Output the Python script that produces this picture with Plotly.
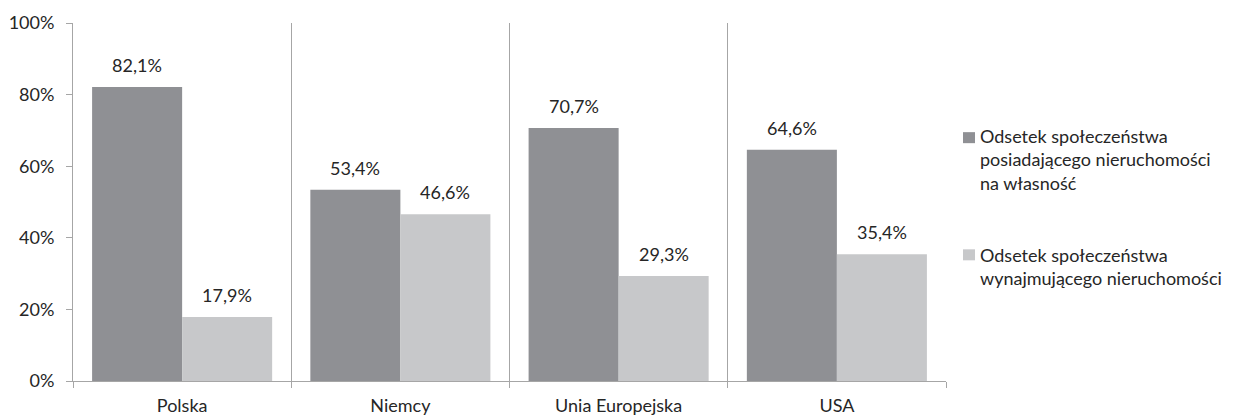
import plotly.graph_objects as go

categories = ["Polska", "Niemcy", "Unia Europejska", "USA"]
owners = [82.1, 53.4, 70.7, 64.6]
renters = [17.9, 46.6, 29.3, 35.4]
series_names = [
    "Odsetek społeczeństwa<br>posiadającego nieruchomości<br>na własność",
    "Odsetek społeczeństwa<br>wynajmującego nieruchomości",
]
y_ticks = [0, 20, 40, 60, 80, 100]
y_tick_labels = ["0%", "20%", "40%", "60%", "80%", "100%"]

DARK = "#8f9094"
LIGHT = "#c7c8ca"
AXIS = "#a6a6a6"
TEXT = "#262626"
FONT = "Lato, 'Open Sans', sans-serif"
FS = 18

fig = go.Figure()
fig.add_trace(go.Bar(x=categories, y=owners, name=series_names[0],
                     marker=dict(color=DARK, line=dict(width=0))))
fig.add_trace(go.Bar(x=categories, y=renters, name=series_names[1],
                     marker=dict(color=LIGHT, line=dict(width=0))))

# value labels above each bar
half = 45
for vals, shift in ((owners, -half), (renters, half)):
    for c, v in zip(categories, vals):
        fig.add_annotation(x=c, y=v, xref="x", yref="y", xshift=shift, yshift=9,
                           text=f"{v:.1f}%".replace(".", ","), showarrow=False,
                           yanchor="bottom", font=dict(size=FS, color=TEXT, family=FONT))

# legend on the right: small square swatch + multi-line label
plot_top, plot_bottom = 23.5, 381.0


def py2paper(py):
    return (plot_bottom - py) / (plot_bottom - plot_top)


legend_items = [
    (series_names[0], DARK, 138.0, 160.0),
    (series_names[1], LIGHT, 255.0, 266.5),
]
for label, color, swatch_y, text_y in legend_items:
    fig.add_shape(type="rect", xref="paper", yref="paper",
                  x0=1.0 + 17 / 873, x1=1.0 + 29 / 873,
                  y0=py2paper(swatch_y + 5.5), y1=py2paper(swatch_y - 5.5),
                  fillcolor=color, line=dict(width=0))
    fig.add_annotation(x=1.0 + 32 / 873, y=py2paper(text_y), xref="paper", yref="paper",
                       xanchor="left", yanchor="middle", align="left", showarrow=False,
                       text=label, font=dict(size=FS, color=TEXT, family=FONT))

fig.update_layout(
    width=1235, height=415,
    margin=dict(l=73, r=289, t=23, b=34, autoexpand=False),
    paper_bgcolor="white", plot_bgcolor="white",
    barmode="group", bargap=0.175, bargroupgap=0,
    font=dict(family=FONT, size=FS, color=TEXT),
    showlegend=False,
)
fig.update_xaxes(
    type="category", tickson="boundaries", ticks="outside", ticklen=6,
    tickcolor=AXIS, showline=True, linecolor=AXIS, linewidth=1,
    showgrid=True, gridcolor=AXIS, gridwidth=1, ticklabelstandoff=8,
    automargin=False, tickfont=dict(size=FS, color=TEXT), range=[-0.5, 3.5],
)
fig.update_yaxes(
    range=[0, 100], tickvals=y_ticks, ticktext=y_tick_labels, ticks="outside", ticklen=6,
    tickcolor=AXIS, showline=True, linecolor=AXIS, linewidth=1, showgrid=False,
    zeroline=False, ticklabelstandoff=8, automargin=False,
    tickfont=dict(size=FS, color=TEXT),
)

fig.write_html("out.html")
